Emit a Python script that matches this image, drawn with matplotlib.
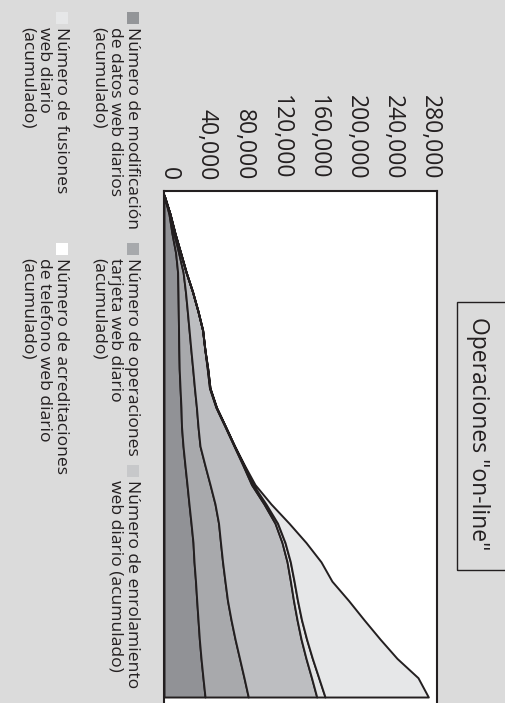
import numpy as np
import matplotlib
matplotlib.use("Agg")
import matplotlib.pyplot as plt
import matplotlib.transforms as mtransforms
from matplotlib.patches import Rectangle

plt.rcParams['font.family'] = ['Open Sans', 'DejaVu Sans']

dias = np.arange(27)
modificacion = [0, 5400, 8600, 12500, 14600, 15000, 15300, 15600, 15900, 16300, 17200, 18200, 18800, 20400,
                22500, 24700, 26800, 29000, 31100, 32200, 33800, 35100, 36500, 37900, 39700, 41800, 44000]
operaciones = [0, 1100, 2100, 3200, 5900, 8000, 9700, 11300, 12900, 14500, 15500, 16600, 17700, 18200,
               21400, 24700, 27900, 29500, 29500, 30600, 31600, 33000, 35400, 38300, 41300, 44000, 46400]
enrolamiento = [0, 0, 1100, 2100, 3200, 7500, 11300, 14500, 15000, 15600, 16100, 20900, 29000, 36500,
                40800, 44500, 52500, 60600, 66000, 69200, 70200, 70800, 70800, 70800, 71300, 72400, 73400]
acreditaciones = [0, 0, 0, 0, 0, 0, 0, 0, 0, 500, 500, 500, 500, 500,
                  1100, 1600, 2100, 2700, 3200, 3500, 3900, 4300, 4800, 5900, 6800, 7700, 8900]
fusiones = [0, 0, 0, 0, 0, 0, 0, 0, 0, 0, 0, 0, 0, 0,
            500, 2100, 5400, 12300, 22500, 32900, 40600, 54700, 67000, 78800, 90800, 106500, 110800]

ticks = [0, 40000, 80000, 120000, 160000, 200000, 240000, 280000]
titulo = 'Operaciones "on-line"'

# stack order bottom -> top
capas = [modificacion, operaciones, enrolamiento, acreditaciones, fusiones]
colores_capas = ['#919296', '#a8a9ac', '#bdbec1', '#e2e3e4', '#e6e7e8']

# legend entries
leyenda = [
    ('Número de modificación\nde datos web diarios\n(acumulado)', '#939598'),
    ('Número de operaciones\ntarjeta web diario\n(acumulado)', '#a7a9ac'),
    ('Número de enrolamiento\nweb diario (acumulado)', '#c7c8ca'),
    ('Número de fusiones\nweb diario\n(acumulado)', '#e6e7e8'),
    ('Número de acreditaciones\nde telefono web diario\n(acumulado)', '#ffffff'),
]

W, H = 505, 703
fig = plt.figure(figsize=(W / 100, H / 100), dpi=100, facecolor='#dbdbdb')


def fx(px):
    return px / W


def fy(py):
    return 1 - py / H


INK = '#231f20'

# chart is drawn turned a quarter turn: values run left->right, days top->bottom
ax = fig.add_axes([fx(164), 0, fx(437) - fx(164), fy(191)])
ax.set_facecolor('white')
base = np.zeros(len(dias))
for vals, col in zip(capas, colores_capas):
    top = base + np.array(vals)
    ax.fill_betweenx(dias, base, top, facecolor=col, edgecolor=INK, linewidth=1.4)
    base = top

ax.set_xlim(0, 292800)
ax.set_ylim(26.31, -0.207)
ax.set_yticks([])
ax.xaxis.tick_top()
ax.set_xticks(ticks)
ax.set_xticklabels([f'{t:,}' for t in ticks], rotation=270, fontsize=16.5, color=INK)
ax.tick_params(axis='x', length=0, pad=8)
offset = mtransforms.ScaledTranslation(5 / 100, 0, fig.dpi_scale_trans)
for lab in ax.get_xticklabels():
    lab.set_transform(lab.get_transform() + offset)
for s in ['left', 'top', 'right']:
    ax.spines[s].set_color(INK)
    ax.spines[s].set_linewidth(1.5)
ax.spines['bottom'].set_visible(False)

# title box
fig.patches.append(Rectangle((fx(457), fy(570)), fx(520) - fx(457), fy(302) - fy(570),
                             transform=fig.transFigure, facecolor='none', edgecolor=INK,
                             linewidth=1.0, clip_on=False))
fig.text(fx(478), fy(317), titulo, rotation=270, ha='center', va='top', fontsize=16.5, color=INK)

# legend
pos = [(139, 12), (139, 243), (139, 465), (68, 12), (68, 243)]
for (txt, col), (xr, yt) in zip(leyenda, pos):
    fig.patches.append(Rectangle((fx(xr - 12), fy(yt + 12)), 12 / W, 12 / H,
                                 transform=fig.transFigure, facecolor=col, edgecolor='none'))
    fig.text(fx(xr + 1), fy(yt + 15), txt, rotation=270, ha='right', va='top',
             multialignment='left', fontsize=12.6, color=INK, linespacing=1.05)

fig.savefig('out.png', dpi=100, facecolor=fig.get_facecolor())
